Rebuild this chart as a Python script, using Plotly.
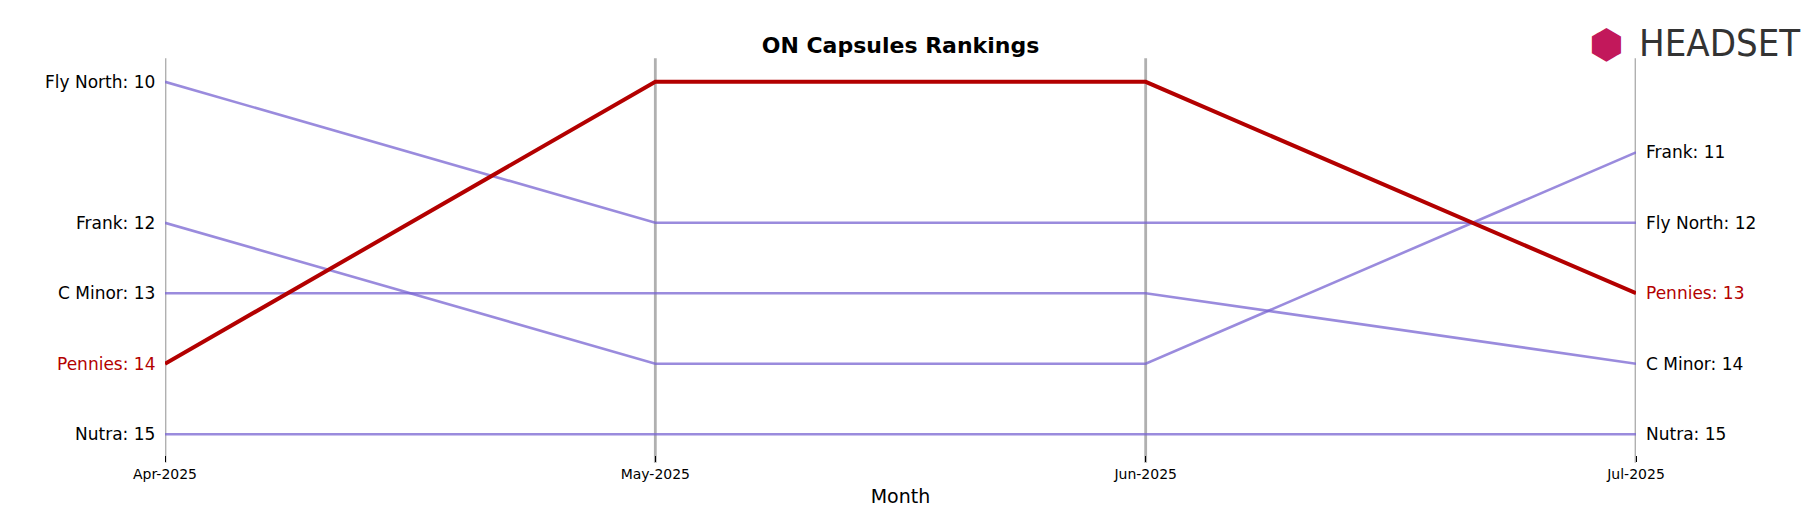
import plotly.graph_objects as go

months = ["Apr-2025", "May-2025", "Jun-2025", "Jul-2025"]
brands = ["Fly North", "Frank", "C Minor", "Nutra", "Pennies"]
ranks = {
    "Fly North": [10, 12, 12, 12],
    "Frank": [12, 14, 14, 11],
    "C Minor": [13, 13, 13, 14],
    "Nutra": [15, 15, 15, 15],
    "Pennies": [14, 10, 10, 13],
}
highlight = "Pennies"

x = list(range(len(months)))
fig = go.Figure()
for b in brands:
    hl = b == highlight
    fig.add_trace(go.Scatter(x=x, y=ranks[b], mode="lines", name=b,
        line=dict(color="#b30000" if hl else "rgba(120,100,210,0.75)", width=4 if hl else 2.6),
        showlegend=False))
for xi in x:
    fig.add_shape(type="line", x0=xi, x1=xi, y0=-0.02, y1=1.02, xref="x", yref="paper",
                  line=dict(color="rgba(150,150,150,0.75)", width=2.8), layer="below")
for b in brands:
    c = "#b30000" if b == highlight else "black"
    fig.add_annotation(x=0, y=ranks[b][0], text=f"{b}: {ranks[b][0]}", xanchor="right", xshift=-8,
                       showarrow=False, font=dict(size=17, color=c, family="DejaVu Sans"))
    fig.add_annotation(x=3, y=ranks[b][-1], text=f"{b}: {ranks[b][-1]}", xanchor="left", xshift=8,
                       showarrow=False, font=dict(size=17, color=c, family="DejaVu Sans"))
fig.add_annotation(xref="paper", yref="paper", x=1.113, y=1.06, text="HEADSET", showarrow=False,
                   xanchor="right", yanchor="middle", font=dict(size=38, color="#333", family="DejaVu Sans Condensed, DejaVu Sans"))
fig.add_annotation(xref="paper", yref="paper", x=0.98, y=1.06, text="⬢", showarrow=False,
                   xanchor="center", yanchor="middle", font=dict(size=40, color="#c2185b"))
fig.update_layout(
    width=1814, height=507, plot_bgcolor="white", paper_bgcolor="white",
    margin=dict(l=157, r=186, t=58, b=56),
    title=dict(text="<b>ON Capsules Rankings</b>", x=0.5 * (157 + 1628) / 1814, xanchor="center",
               y=0.927, yanchor="middle", font=dict(size=22, color="black", family="DejaVu Sans")),
    xaxis=dict(range=[0, 3], tickvals=x, ticktext=months, showgrid=False, zeroline=False,
               ticks="outside", ticklen=6, tickcolor="black", tickfont=dict(size=14, family="DejaVu Sans", color="black"),
               title=dict(text="Month", font=dict(size=19, family="DejaVu Sans", color="black"), standoff=8)),
    yaxis=dict(range=[15.295, 9.775], showticklabels=False, showgrid=False, zeroline=False),
)
fig.write_html("out.html")
